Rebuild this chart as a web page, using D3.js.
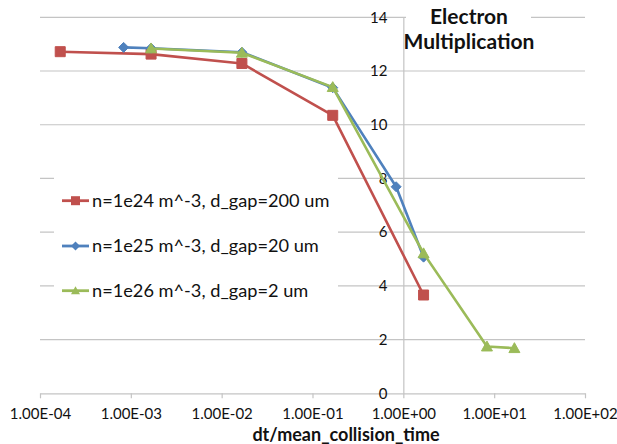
<!DOCTYPE html>
<html>
<head>
<meta charset="utf-8">
<script src="https://cdn.jsdelivr.net/npm/d3@7"></script>
<style>
  html, body { margin: 0; padding: 0; background: #fff; }
  svg { display: block; }
  text { font-family: Lato, "Open Sans", sans-serif; fill: #111; }
</style>
</head>
<body>
<svg id="chart" width="617" height="444"></svg>
<script>
// Series data: dt / mean collision time vs. electron multiplication
const seriesNames = [
  "n=1e24 m^-3, d_gap=200 um",
  "n=1e25 m^-3, d_gap=20 um",
  "n=1e26 m^-3, d_gap=2 um"
];
const xRed   = [1.67e-4, 1.67e-3, 1.67e-2, 1.67e-1, 1.67];
const yRed   = [12.72, 12.63, 12.28, 10.35, 3.66];
const xBlue  = [8.33e-4, 1.67e-3, 1.67e-2, 1.67e-1, 8.33e-1, 1.67];
const yBlue  = [12.88, 12.85, 12.70, 11.38, 7.69, 5.07];
const xGreen = [1.67e-3, 1.67e-2, 1.67e-1, 1.67, 8.33, 16.7];
const yGreen = [12.84, 12.68, 11.40, 5.21, 1.74, 1.68];

const xTicks = [1e-4, 1e-3, 1e-2, 1e-1, 1e0, 1e1, 1e2];
const xTickLabels = ["1.00E-04", "1.00E-03", "1.00E-02", "1.00E-01", "1.00E+00", "1.00E+01", "1.00E+02"];
const yTicks = [0, 2, 4, 6, 8, 10, 12, 14];
const titleLines = ["Electron", "Multiplication"];
const xAxisTitle = "dt/mean_collision_time";

const colors = ["#C0504D", "#4F81BD", "#9BBB59"];
const markers = ["square", "diamond", "triangle"];

const svg = d3.select("#chart");
const plot = { left: 40, right: 585, top: 17.3, bottom: 393.3 };

const x = d3.scaleLog().domain([1e-4, 1e2]).range([plot.left, plot.right]);
const y = d3.scaleLinear().domain([0, 14]).range([plot.bottom, plot.top]);

const gridColor = "#c4c4c4";

// Horizontal gridlines
svg.append("g")
  .selectAll("line")
  .data(yTicks.filter(d => d > 0))
  .join("line")
  .attr("x1", plot.left).attr("x2", plot.right)
  .attr("y1", d => y(d)).attr("y2", d => y(d))
  .attr("stroke", gridColor).attr("stroke-width", 1.2);

// X axis with downward ticks, crossing y at 0
const xAxis = d3.axisBottom(x)
  .tickValues(xTicks)
  .tickFormat((d, i) => xTickLabels[i])
  .tickSizeInner(5).tickSizeOuter(0).tickPadding(10);
const gx = svg.append("g")
  .attr("transform", `translate(0,${plot.bottom})`)
  .call(xAxis);
gx.select(".domain").attr("stroke", gridColor).attr("stroke-width", 1.2);
gx.selectAll(".tick line").attr("stroke", gridColor).attr("stroke-width", 1.2);
gx.selectAll(".tick text")
  .attr("font-family", "Lato, sans-serif").attr("font-size", 15).attr("fill", "#111");

// Y axis crosses x at 1.00E+00
const yAxis = d3.axisLeft(y)
  .tickValues(yTicks)
  .tickFormat(d3.format("d"))
  .tickSizeInner(0).tickSizeOuter(0).tickPadding(16);
const gy = svg.append("g")
  .attr("transform", `translate(${x(1)},0)`)
  .call(yAxis);
gy.select(".domain").attr("stroke", gridColor).attr("stroke-width", 1.2);
gy.selectAll(".tick text")
  .attr("font-family", "Lato, sans-serif").attr("font-size", 15).attr("fill", "#111");

// Series lines and markers
function markerPath(type, size) {
  const s = size / 2;
  if (type === "square") return `M${-s},${-s}H${s}V${s}H${-s}Z`;
  if (type === "diamond") return `M0,${-s}L${s},0L0,${s}L${-s},0Z`;
  return `M0,${-s}L${s},${s * 0.8}L${-s},${s * 0.8}Z`;
}
const markerSize = [10, 10, 11];

const series = [
  { xs: xRed, ys: yRed },
  { xs: xBlue, ys: yBlue },
  { xs: xGreen, ys: yGreen }
];

const line = d3.line().x(d => x(d[0])).y(d => y(d[1]));

series.forEach((s, i) => {
  const pts = s.xs.map((v, j) => [v, s.ys[j]]);
  const g = svg.append("g");
  g.append("path")
    .attr("d", line(pts))
    .attr("fill", "none")
    .attr("stroke", colors[i])
    .attr("stroke-width", 2.6)
    .attr("stroke-linejoin", "round");
  g.selectAll("path.m")
    .data(pts)
    .join("path")
    .attr("class", "m")
    .attr("d", markerPath(markers[i], markerSize[i]))
    .attr("transform", d => `translate(${x(d[0])},${y(d[1])})`)
    .attr("fill", colors[i])
    .attr("stroke", colors[i])
    .attr("stroke-width", 1);
});

// Legend
const legend = svg.append("g");
legend.append("rect")
  .attr("x", 54).attr("y", 176).attr("width", 284).attr("height", 136)
  .attr("fill", "#fff");
const legendRows = [200.7, 246, 290.7];
seriesNames.forEach((name, i) => {
  const row = legend.append("g").attr("transform", `translate(0,${legendRows[i]})`);
  row.append("line")
    .attr("x1", 62).attr("x2", 89)
    .attr("stroke", colors[i]).attr("stroke-width", 2.8);
  row.append("path")
    .attr("d", markerPath(markers[i], 9))
    .attr("transform", "translate(75.5,0)")
    .attr("fill", colors[i]);
  row.append("text")
    .attr("x", 92).attr("y", 6.3)
    .attr("font-size", 18.2)
    .text(name);
});

// Chart title
const title = svg.append("g");
title.append("rect")
  .attr("x", 406).attr("y", 3).attr("width", 125).attr("height", 52)
  .attr("fill", "#fff");
titleLines.forEach((t, i) => {
  title.append("text")
    .attr("x", 469).attr("y", 24 + i * 24.5)
    .attr("text-anchor", "middle")
    .attr("font-size", 21).attr("font-weight", "bold")
    .text(t);
});

// X axis title
svg.append("text")
  .attr("x", 346).attr("y", 440.5)
  .attr("text-anchor", "middle")
  .attr("font-size", 18).attr("font-weight", "bold")
  .text(xAxisTitle);
</script>
</body>
</html>
